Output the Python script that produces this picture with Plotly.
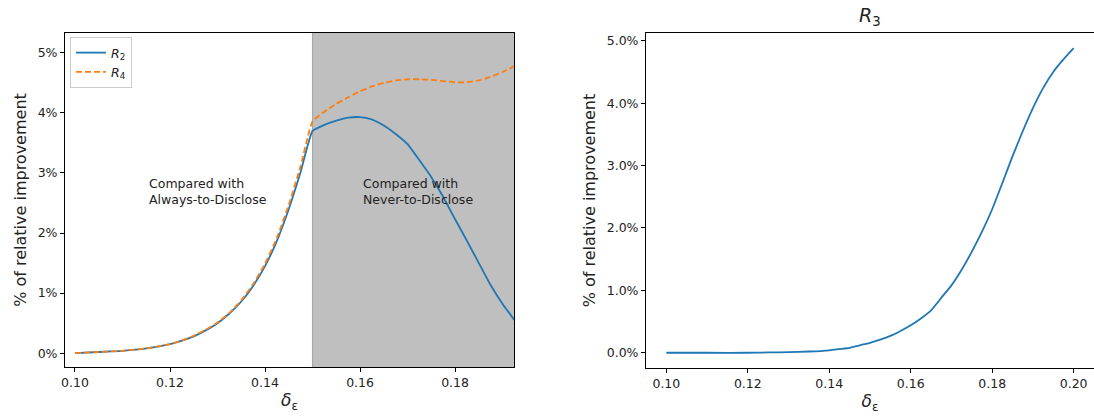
import plotly.graph_objects as go

# ---------------- data ----------------
# Left panel (R2 and R4)
x_left = [0.100, 0.105, 0.110, 0.115, 0.120, 0.1225, 0.125, 0.1275, 0.130, 0.1325,
          0.135, 0.1375, 0.140, 0.1425, 0.145, 0.1475, 0.150, 0.1525, 0.155, 0.1575,
          0.160, 0.1625, 0.165, 0.1675, 0.170, 0.1725, 0.175, 0.1775, 0.180, 0.1825,
          0.185, 0.1875, 0.190, 0.1925]
r2 = [0.00, 0.02, 0.04, 0.08, 0.15, 0.21, 0.28, 0.38, 0.50, 0.66,
      0.86, 1.12, 1.45, 1.87, 2.40, 3.02, 3.70, 3.80, 3.87, 3.92,
      3.93, 3.89, 3.79, 3.65, 3.48, 3.21, 2.93, 2.60, 2.23, 1.87,
      1.50, 1.13, 0.82, 0.55]
r4 = [0.00, 0.02, 0.04, 0.08, 0.15, 0.21, 0.29, 0.39, 0.51, 0.67,
      0.88, 1.15, 1.49, 1.92, 2.47, 3.12, 3.86, 4.02, 4.15, 4.26,
      4.36, 4.44, 4.50, 4.54, 4.56, 4.56, 4.55, 4.53, 4.51, 4.51,
      4.54, 4.60, 4.68, 4.78]

# Right panel (R3)
x_right = [0.100, 0.110, 0.120, 0.125, 0.130, 0.135, 0.140, 0.1425, 0.145, 0.1475,
           0.150, 0.1525, 0.155, 0.1575, 0.160, 0.1625, 0.165, 0.1675, 0.170, 0.1725,
           0.175, 0.1775, 0.180, 0.1825, 0.185, 0.1875, 0.190, 0.1925, 0.195, 0.1975,
           0.200]
r3 = [0.00, 0.00, 0.00, 0.005, 0.01, 0.02, 0.04, 0.06, 0.08, 0.12,
      0.16, 0.21, 0.27, 0.35, 0.44, 0.55, 0.68, 0.88, 1.08, 1.33,
      1.62, 1.94, 2.30, 2.72, 3.15, 3.55, 3.92, 4.24, 4.50, 4.70,
      4.88]

shade_start = 0.15
left_xticks = [0.10, 0.12, 0.14, 0.16, 0.18]
left_xlabels = ["0.10", "0.12", "0.14", "0.16", "0.18"]
right_xticks = [0.10, 0.12, 0.14, 0.16, 0.18, 0.20]
right_xlabels = ["0.10", "0.12", "0.14", "0.16", "0.18", "0.20"]
left_yticks = [0, 1, 2, 3, 4, 5]
left_ylabels = ["0%", "1%", "2%", "3%", "4%", "5%"]
right_yticks = [0, 1, 2, 3, 4, 5]
right_ylabels = ["0.0%", "1.0%", "2.0%", "3.0%", "4.0%", "5.0%"]

# ---------------- figure ----------------
W, H = 1094, 416
BLUE = "#1f77b4"
ORANGE = "#ff7f0e"
FONT = "DejaVu Sans"
TXT = "#222222"

fig = go.Figure()
fig.add_trace(go.Scatter(x=x_left, y=r2, mode="lines", name="<i>R</i><sub>2</sub>",
                         line=dict(color=BLUE, width=1.8, shape="spline", smoothing=0.4),
                         xaxis="x", yaxis="y"))
fig.add_trace(go.Scatter(x=x_left, y=r4, mode="lines", name="<i>R</i><sub>4</sub>",
                         line=dict(color=ORANGE, width=1.8, dash="6px,3px", shape="spline", smoothing=0.4),
                         xaxis="x", yaxis="y"))
fig.add_trace(go.Scatter(x=x_right, y=r3, mode="lines", showlegend=False,
                         line=dict(color=BLUE, width=1.8, shape="spline", smoothing=0.4),
                         xaxis="x2", yaxis="y2"))

left_xr = [0.0979, 0.1924]
common_axis = dict(showline=True, mirror=True, linecolor="#000000", linewidth=1,
                   ticks="outside", ticklen=4, tickcolor="#000000", showgrid=False,
                   zeroline=False, automargin=False, tickmode="array",
                   tickfont=dict(family=FONT, size=12.5, color=TXT))

fig.update_layout(
    width=W, height=H,
    margin=dict(l=0, r=0, t=0, b=0),
    paper_bgcolor="white", plot_bgcolor="white",
    font=dict(family=FONT, color=TXT),
    xaxis=dict(domain=[65 / W, 514 / W], range=left_xr, tickvals=left_xticks,
               ticktext=left_xlabels, anchor="y",
               title=dict(text="<i>δ</i><sub>ε</sub>", font=dict(family=FONT, size=17, color=TXT), standoff=5),
               **common_axis),
    yaxis=dict(domain=[1 - 367 / H, 1 - 33 / H], range=[-0.23, 5.33], tickvals=left_yticks,
               ticktext=left_ylabels, anchor="x",
               title=dict(text="% of relative improvement", font=dict(family=FONT, size=16, color=TXT), standoff=7),
               **common_axis),
    xaxis2=dict(domain=[646 / W, 1.0], range=[0.095, 0.205], tickvals=right_xticks,
                ticktext=right_xlabels, anchor="y2",
                title=dict(text="<i>δ</i><sub>ε</sub>", font=dict(family=FONT, size=17, color=TXT), standoff=5),
                **common_axis),
    yaxis2=dict(domain=[1 - 368 / H, 1 - 33 / H], range=[-0.244, 5.124], tickvals=right_yticks,
                ticktext=right_ylabels, anchor="x2",
                title=dict(text="% of relative improvement", font=dict(family=FONT, size=16, color=TXT), standoff=7),
                **common_axis),
    legend=dict(x=70 / W, y=1 - 37 / H, xanchor="left", yanchor="top",
                bgcolor="rgba(255,255,255,0.85)", bordercolor="#cccccc", borderwidth=1,
                font=dict(family=FONT, size=12.5, color=TXT), tracegroupgap=0,
                itemwidth=30),
    shapes=[
        dict(type="rect", xref="x", yref="y domain", x0=shade_start, x1=left_xr[1], y0=0, y1=1,
             fillcolor="#bfbfbf", line=dict(width=0), layer="below"),
        dict(type="line", xref="x", yref="y domain", x0=shade_start, x1=shade_start, y0=0, y1=1,
             line=dict(color="#a9a9a9", width=1.2), layer="below"),
    ],
    annotations=[
        dict(text="Compared with<br>Always-to-Disclose", xref="x", yref="y", x=0.1152, y=2.69,
             xanchor="left", yanchor="middle", align="left", showarrow=False,
             font=dict(family=FONT, size=12.5, color=TXT)),
        dict(text="Compared with<br>Never-to-Disclose", xref="x", yref="y", x=0.1602, y=2.69,
             xanchor="left", yanchor="middle", align="left", showarrow=False,
             font=dict(family=FONT, size=12.5, color=TXT)),
        dict(text="<i>R</i><sub>3</sub>", xref="paper", yref="paper", x=(646 + 1094) / 2 / W,
             y=1 - 17 / H, xanchor="center", yanchor="middle", showarrow=False,
             font=dict(family=FONT, size=19, color=TXT)),
    ],
)

fig.write_html("out.html")
